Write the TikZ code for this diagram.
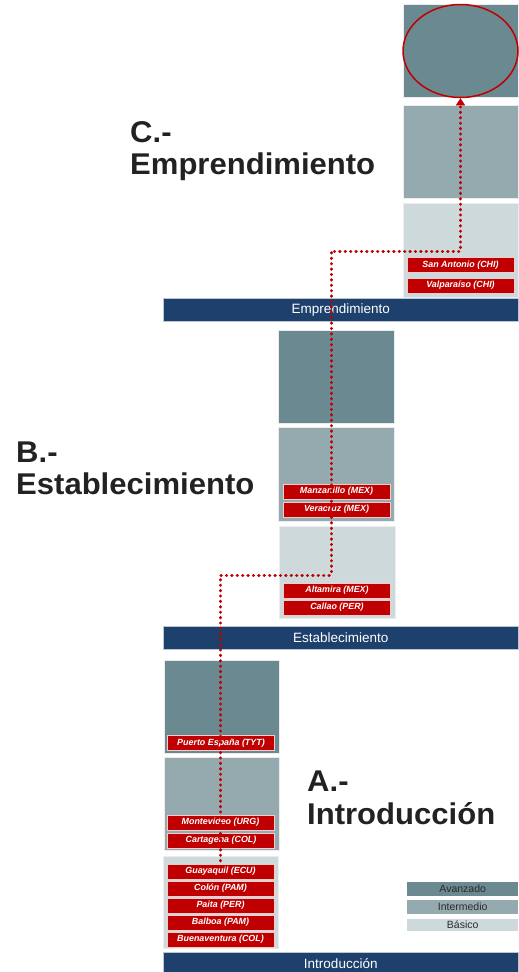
\documentclass[tikz,border=0pt]{standalone}
\usepackage{fontspec}
\setmainfont{Liberation Sans}
\usetikzlibrary{shapes.geometric,arrows.meta}
\definecolor{cav}{HTML}{6A8990}
\definecolor{cin}{HTML}{94AAAE}
\definecolor{cba}{HTML}{CED9DB}
\definecolor{cbar}{HTML}{1D416C}
\definecolor{cred}{HTML}{C00000}
\definecolor{ctxt}{HTML}{222222}
\definecolor{cleg}{HTML}{2A2A2A}
\newcommand{\wide}[1]{\scalebox{1.035}[1]{#1}}
\tikzset{
  lvlbox/.style={draw=white!85!gray, line width=0.6pt, inner sep=0pt, anchor=north west, minimum width=115pt},
  av/.style={lvlbox, fill=cav},
  im/.style={lvlbox, fill=cin},
  ba/.style={lvlbox, fill=cba},
  bar/.style={fill=cbar, draw=white!70!cbar, line width=0.5pt, inner sep=0pt, minimum width=355pt, minimum height=23pt, anchor=north west, text=white, font=\fontsize{13.5}{14}\selectfont},
  port/.style={fill=cred, draw=white!80!cred, line width=0.4pt, inner sep=0pt, minimum width=107pt, minimum height=15pt, text=white, font=\fontsize{8.9}{9}\selectfont\bfseries\itshape},
  ttl/.style={anchor=base west, inner sep=0pt, text=ctxt, font=\fontsize{30}{32}\selectfont\bfseries},
  leg/.style={inner sep=0pt, minimum width=111pt, anchor=north west, text=cleg, font=\fontsize{10.5}{11}\selectfont},
  dots/.style={cred, line width=3pt, line cap=round, dash pattern=on 0.4pt off 5pt},
}
\begin{document}
\begin{tikzpicture}[x=1pt,y=-1pt]
\useasboundingbox (0,0) rectangle (519,972);
% Column C
\node[av, minimum height=93pt] (cA) at (403,4) {};
\node[im, minimum height=93pt] (cI) at (403,105) {};
\node[ba, minimum height=94pt] (cB) at (403,203) {};
\node[port] (sant) at (460.5,265) {San Antonio (CHI)};
\node[port] (valp) at (460.5,285.5) {Valparaíso (CHI)};
\node[bar] (barE) at (163,298) {Emprendimiento};
% Column B
\node[av, minimum width=116pt, minimum height=93pt] (bA) at (278,330) {};
\node[im, minimum width=116pt, minimum height=94pt] (bI) at (278,427) {};
\node[ba, minimum width=116pt, minimum height=92pt] (bB) at (279,526) {};
\node[port] (manz) at (336.5,491.5) {Manzanillo (MEX)};
\node[port] (vera) at (336.5,509.5) {Veracruz (MEX)};
\node[port] (alta) at (337,590.5) {Altamira (MEX)};
\node[port] (call) at (337,607.5) {Callao (PER)};
\node[bar] (barS) at (163,626) {Establecimiento};
% Column A
\node[av, minimum height=93pt] (aA) at (164,660) {};
\node[im, minimum height=93pt] (aI) at (164,757) {};
\node[ba, minimum height=92pt] (aB) at (163,856) {};
\node[port] (pesp) at (221,743) {Puerto España (TYT)};
\node[port] (mont) at (220.5,822.5) {Montevideo (URG)};
\node[port] (cart) at (221,840.5) {Cartagena (COL)};
\node[port] (guay) at (220.5,871.5) {Guayaquil (ECU)};
\node[port] (colo) at (220.5,888.5) {Colón (PAM)};
\node[port] (pait) at (220.5,905.5) {Paita (PER)};
\node[port] (balb) at (220.5,922.5) {Balboa (PAM)};
\node[port] (buen) at (220.5,939.5) {Buenaventura (COL)};
\node[bar, minimum height=22pt] (barI) at (163,952) {Introducción};
% Legend
\node[leg, fill=cav, minimum height=14pt] (lA) at (407,882) {Avanzado};
\node[leg, fill=cin, minimum height=14pt] (lI) at (407,900) {Intermedio};
\node[leg, fill=cba, minimum height=12pt] (lB) at (407,918.5) {Básico};
% Titles
\node[ttl] (tC1) at (130,142) {\wide{C.-}};
\node[ttl] (tC2) at (130,174) {\wide{Emprendimiento}};
\node[ttl] (tB1) at (16,462) {\wide{B.-}};
\node[ttl] (tB2) at (16,494) {\wide{Establecimiento}};
\node[ttl] (tA1) at (307,791) {\wide{A.-}};
\node[ttl] (tA2) at (307,824) {\wide{Introducción}};
% Highlight ellipse
\node[ellipse, draw=cred, line width=1.5pt, minimum width=115pt, minimum height=93pt, inner sep=0pt] (ell) at (460.5,51) {};
% Path
\coordinate (k1) at (331,575);
\coordinate (k2) at (460.5,251);
\draw[dots] ([yshift=3pt]guay.north) |- (k1) |- (k2) -- ([yshift=-7pt]ell.south);
\draw[cred, -{Triangle[width=9pt,length=7pt]}] ([yshift=-6pt]ell.south) -- (ell.south);
\end{tikzpicture}
\end{document}
